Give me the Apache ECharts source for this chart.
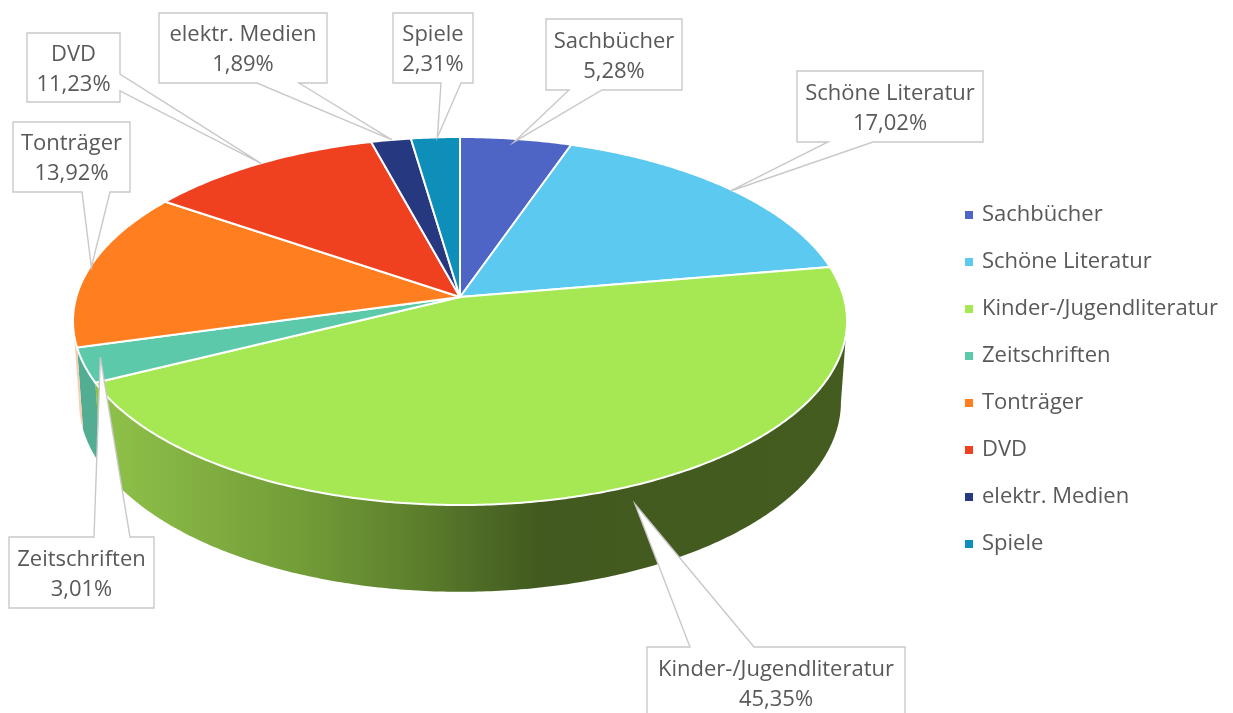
<!DOCTYPE html>
<html>
<head>
<meta charset="utf-8">
<style>
  html, body { margin: 0; padding: 0; background: #fff; }
  #chart { width: 1233px; height: 713px; }
</style>
<script src="https://cdn.jsdelivr.net/npm/echarts@6/dist/echarts.min.js"></script>
</head>
<body>
<div id="chart"></div>
<script>
// Data
const categories = ['Sachbücher', 'Schöne Literatur', 'Kinder-/Jugendliteratur', 'Zeitschriften', 'Tonträger', 'DVD', 'elektr. Medien', 'Spiele'];
const shares = [5.28, 17.02, 45.35, 3.01, 13.92, 11.23, 1.89, 2.31];

// Colours of the top faces and of the side walls
const topColors = ['#4f65c5', '#5bc9f0', '#a6e853', '#5ccaaa', '#ff7f20', '#ef4120', '#26387f', '#0e8fba'];
const wallColors = ['#3a4a90', '#4495b0', null, '#52ad93', '#f9cdb0', '#b03018', '#1c295d', '#0a6888'];
const greenWallStops = [
  { offset: 0, color: '#8fc149' },
  { offset: 0.264, color: '#729d38' },
  { offset: 0.4, color: '#5f832e' },
  { offset: 0.583, color: '#425a1f' },
  { offset: 1, color: '#455c20' }
];

// Callout boxes: [left, top, right, bottom], wedge foot along the box edge, tip shift from the rim
const callouts = [
  { box: [546, 19, 682, 90], edge: 'bottom', foot: [569, 602], shift: [-2, 3] },
  { box: [797, 71, 983, 142], edge: 'bottom', foot: [828, 873], shift: [1, 2] },
  { box: [647, 647, 905, 718], edge: 'top', foot: [690, 754], shift: [39, 11] },
  { box: [9, 537, 154, 608], edge: 'top', foot: [94, 130], shift: [16, -8] },
  { box: [13, 122, 130, 192], edge: 'bottom', foot: [82, 110], shift: [2, -1] },
  { box: [27, 33, 120, 102], edge: 'right', foot: [74, 91], shift: [2, 0] },
  { box: [159, 13, 327, 83], edge: 'bottom', foot: [257, 299], shift: [1, 0] },
  { box: [393, 13, 473, 83], edge: 'bottom', foot: [441, 461], shift: [2, 0] }
];

// Perspective disc: the pie centre sits above the middle of the ellipse
const tilt = 0.1304;
const topRim = { x: 460, y: 297, rx: 383.7, ry: 180.9 };
const lowRim = { x: 460, y: 377, rx: 377.7, ry: 186.8 };
const labelFont = '22px "Open Sans", sans-serif';
const total = shares.reduce((a, b) => a + b, 0);

// Walls only show between the left and right extremes of the rim
const wallFrom = Math.acos(-tilt);
const wallTo = Math.PI * 2 - wallFrom;

function rimPoint(rim, angle) {
  const u = Math.sin(angle);
  const v = -Math.cos(angle);
  const w = 1 - tilt * v;
  return [rim.x + rim.rx * u / w, rim.y + rim.ry * v / w];
}

function arcPoints(rim, from, to) {
  const steps = Math.max(4, Math.ceil((to - from) / 0.01));
  const pts = [];
  for (let i = 0; i <= steps; i++) {
    pts.push(rimPoint(rim, from + (to - from) * i / steps));
  }
  return pts;
}

function calloutOutline(c, tip) {
  const [l, t, r, b] = c.box;
  const [f0, f1] = c.foot;
  if (c.edge === 'bottom') {
    return [[l, t], [r, t], [r, b], [f1, b], tip, [f0, b], [l, b]];
  }
  if (c.edge === 'top') {
    return [[l, t], [f0, t], tip, [f1, t], [r, t], [r, b], [l, b]];
  }
  return [[l, t], [r, t], [r, f0], tip, [r, f1], [r, b], [l, b]];
}

function wallShape(a0, a1, fill) {
  const from = Math.max(a0, wallFrom);
  const to = Math.min(a1, wallTo);
  if (to <= from) {
    return [];
  }
  return [{
    type: 'polygon',
    z2: 1,
    shape: { points: arcPoints(topRim, from, to).concat(arcPoints(lowRim, from, to).reverse()) },
    style: { fill: fill }
  }];
}

function makeRenderItem(idx) {
  return function (params, api) {
    const value = api.value(0);
    const before = shares.slice(0, idx).reduce((a, b) => a + b, 0);
    const a0 = before / total * Math.PI * 2;
    const a1 = (before + value) / total * Math.PI * 2;
    const mid = (a0 + a1) / 2;

    const wallFill = wallColors[idx] || new echarts.graphic.LinearGradient(104, 0, 847, 0, greenWallStops, true);

    const rim = rimPoint(topRim, mid);
    const c = callouts[idx];
    const tip = [rim[0] + c.shift[0], rim[1] + c.shift[1]];

    return {
      type: 'group',
      children: wallShape(a0, a1, wallFill).concat([
        {
          type: 'polygon',
          z2: 2,
          shape: { points: [[topRim.x, topRim.y]].concat(arcPoints(topRim, a0, a1)) },
          style: { fill: topColors[idx], stroke: '#fff', lineWidth: 2, lineJoin: 'round' }
        },
        {
          type: 'polygon',
          z2: 10,
          shape: { points: calloutOutline(c, tip) },
          style: { fill: '#fff', stroke: '#c9c9c9', lineWidth: 1.4 }
        },
        {
          type: 'text',
          z2: 11,
          style: {
            x: (c.box[0] + c.box[2]) / 2,
            y: (c.box[1] + c.box[3]) / 2 + 2,
            text: categories[idx] + '\n' + value.toFixed(2).replace('.', ',') + '%',
            font: labelFont,
            lineHeight: 30,
            fill: '#595959',
            align: 'center',
            verticalAlign: 'middle'
          }
        }
      ])
    };
  };
}

const chart = echarts.init(document.getElementById('chart'), null, { renderer: 'canvas' });

chart.setOption({
  animation: false,
  backgroundColor: '#fff',
  legend: {
    orient: 'vertical',
    left: 965,
    top: 204,
    padding: 0,
    data: categories,
    icon: 'rect',
    itemWidth: 8,
    itemHeight: 8,
    itemGap: 25,
    selectedMode: false,
    textStyle: {
      fontFamily: '"Open Sans", sans-serif',
      fontSize: 22,
      lineHeight: 20,
      color: '#595959',
      padding: [0, 0, 0, 4]
    }
  },
  series: categories.map((name, idx) => ({
    type: 'custom',
    name: name,
    coordinateSystem: 'none',
    silent: true,
    itemStyle: { color: topColors[idx] },
    renderItem: makeRenderItem(idx),
    data: [[shares[idx]]]
  }))
});
</script>
</body>
</html>
